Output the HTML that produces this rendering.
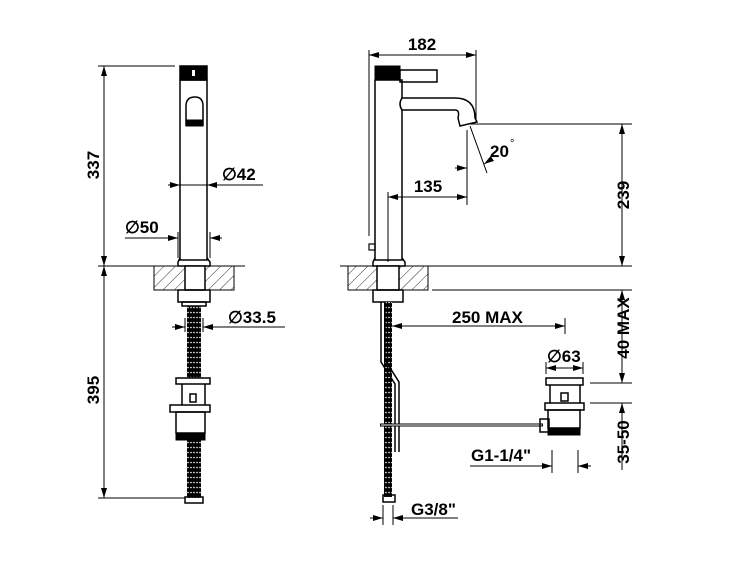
<!DOCTYPE html>
<html><head><meta charset="utf-8"><style>
html,body{margin:0;padding:0;background:#fff}
svg{display:block}
text{font-family:"Liberation Sans",Arial,sans-serif;font-weight:bold;font-size:17px;fill:#000}
</style></head><body>
<svg width="750" height="563" viewBox="0 0 750 563" xmlns="http://www.w3.org/2000/svg">
<defs>
<pattern id="h" width="8" height="8" patternUnits="userSpaceOnUse" patternTransform="rotate(45)">
<line x1="0" y1="0" x2="0" y2="8" stroke="#000" stroke-width="0.8"/></pattern>
<marker id="a" viewBox="0 0 10 6" refX="10" refY="3" markerWidth="10" markerHeight="6" orient="auto-start-reverse" markerUnits="userSpaceOnUse"><path d="M0,0L10,3L0,6z" fill="#000"/></marker>
<pattern id="rope" width="6" height="5" patternUnits="userSpaceOnUse"><rect width="6" height="5" fill="#000"/><circle cx="2" cy="2.5" r="0.8" fill="#fff"/><circle cx="5" cy="2.5" r="0.8" fill="#fff"/></pattern>
</defs>
<g stroke="#000" fill="none" stroke-width="1">
<line x1="98" y1="66" x2="175" y2="66"/>
<line x1="98" y1="266" x2="245" y2="266"/>
<line x1="98" y1="498" x2="185" y2="498"/>
<line x1="104" y1="66" x2="104" y2="266" marker-start="url(#a)" marker-end="url(#a)"/>
<line x1="104" y1="266" x2="104" y2="498" marker-start="url(#a)" marker-end="url(#a)"/>
<rect x="180" y="66" width="27" height="14" fill="#000" stroke-width="1.5"/>
<rect x="192" y="70" width="3" height="6" fill="#fff" stroke="none"/>
<rect x="180" y="80" width="27" height="180" stroke-width="1.5"/>
<path d="M186,125 V106 Q186,97 195,97 Q203,97 203,106 V125 Z" stroke-width="1.5"/>
<rect x="186" y="120" width="17" height="6" fill="#000"/>
<path d="M180,258 L178,262 L178,266 L210,266 L210,262 L207,258" stroke-width="1.5"/>
<rect x="154" y="266" width="80" height="24" fill="url(#h)"/>
<rect x="185" y="266" width="20" height="24" fill="#fff" stroke-width="1.5"/>
<rect x="178" y="290" width="32" height="12" stroke-width="1.5"/>
<rect x="182" y="302" width="24" height="4" stroke-width="1.5"/>
<rect x="187" y="306" width="14" height="72" fill="url(#rope)" stroke="none"/>
<path d="M176,378 H210 V384 H176 Z" stroke-width="1.5"/>
<path d="M182,384 V405 M205,384 V405" stroke-width="1.5"/>
<rect x="190" y="394" width="6" height="8" stroke-width="1.5"/>
<rect x="170" y="405" width="40" height="7" stroke-width="1.5"/>
<rect x="176" y="412" width="29" height="21" stroke-width="1.5"/>
<rect x="176" y="433" width="29" height="7" fill="#000"/>
<rect x="187" y="440" width="14" height="58" fill="url(#rope)" stroke="none"/>
<rect x="185" y="497" width="18" height="6" stroke-width="1.5"/>
<line x1="168" y1="185" x2="180" y2="185" marker-end="url(#a)"/>
<line x1="219" y1="185" x2="207" y2="185" marker-end="url(#a)"/>
<line x1="180" y1="185" x2="207" y2="185"/>
<line x1="207" y1="185" x2="263" y2="185"/>
<line x1="125" y1="238" x2="178" y2="238" marker-end="url(#a)"/>
<line x1="222" y1="238" x2="210" y2="238" marker-end="url(#a)"/>
<line x1="178" y1="232" x2="178" y2="258"/><line x1="210" y1="232" x2="210" y2="258"/>
<line x1="172" y1="327" x2="185" y2="327" marker-end="url(#a)"/>
<line x1="285" y1="327" x2="203" y2="327" marker-end="url(#a)"/>
<line x1="185" y1="318" x2="185" y2="332"/><line x1="203" y1="318" x2="203" y2="332"/>

<line x1="369" y1="50" x2="369" y2="236"/>
<line x1="476" y1="50" x2="476" y2="120"/>
<line x1="369" y1="55" x2="476" y2="55" marker-start="url(#a)" marker-end="url(#a)"/>
<rect x="375" y="66" width="25" height="14" fill="#000"/>
<rect x="400" y="70" width="37" height="12" stroke-width="1.5"/>
<rect x="375" y="80" width="27" height="180" stroke-width="1.5"/>
<path d="M402,98 H455 Q475,98 475,118 L477,122 L460,126 L458,118 Q460,110 455,110 H402 Q398,104 402,98 Z" stroke-width="1.5" fill="#fff"/>
<rect x="369" y="244" width="6" height="6" stroke-width="1.2"/>
<line x1="388" y1="192" x2="388" y2="262"/>
<path d="M375,258 L373,262 L373,266 L405,266 L405,262 L402,258" stroke-width="1.5"/>
<line x1="340" y1="266" x2="632" y2="266"/>
<line x1="432" y1="290" x2="632" y2="290"/>
<line x1="470" y1="124" x2="632" y2="124"/>
<rect x="348" y="266" width="80" height="24" fill="url(#h)"/>
<rect x="377" y="266" width="22" height="24" fill="#fff" stroke-width="1.5"/>
<rect x="373" y="290" width="30" height="12" stroke-width="1.5"/>
<rect x="384" y="302" width="8" height="195" fill="url(#rope)" stroke="none"/>
<path d="M381,302 V362 L395,384 V452 M385,302 V360 L399,382 V452" stroke-width="1.5"/>
<rect x="383" y="495" width="12" height="7" stroke-width="1.5"/>
<line x1="380" y1="425" x2="543" y2="425" stroke-width="3"/>
<line x1="381" y1="425" x2="542" y2="425" stroke="#fff" stroke-width="1"/>
<rect x="546" y="378" width="37" height="7" stroke-width="1.5"/>
<path d="M550,385 V403 M580,385 V403" stroke-width="1.5"/>
<rect x="561" y="393" width="7" height="8" stroke-width="1.5"/>
<rect x="545" y="403" width="39" height="7" stroke-width="1.5"/>
<rect x="548" y="410" width="32" height="18" stroke-width="1.5"/>
<rect x="548" y="428" width="32" height="7" fill="#000"/>
<rect x="540" y="419" width="9" height="13" stroke-width="1.5"/>
<line x1="622" y1="124" x2="622" y2="266" marker-start="url(#a)" marker-end="url(#a)"/>
<line x1="467" y1="130" x2="467" y2="205"/>
<line x1="470" y1="126" x2="487" y2="173"/>
<line x1="490" y1="160" x2="484" y2="164" marker-end="url(#a)"/>
<line x1="455" y1="168" x2="467" y2="168" marker-end="url(#a)"/>
<line x1="388" y1="197" x2="467" y2="197" marker-start="url(#a)" marker-end="url(#a)"/>
<line x1="392" y1="326" x2="565" y2="326" marker-start="url(#a)" marker-end="url(#a)"/>
<line x1="565" y1="318" x2="565" y2="334"/>
<line x1="546" y1="368" x2="583" y2="368" marker-start="url(#a)" marker-end="url(#a)"/>
<line x1="546" y1="362" x2="546" y2="374"/><line x1="583" y1="362" x2="583" y2="374"/>
<line x1="622" y1="290" x2="622" y2="370" marker-start="url(#a)"/>
<line x1="622" y1="370" x2="622" y2="383" marker-end="url(#a)"/>
<line x1="590" y1="383" x2="632" y2="383"/>
<line x1="590" y1="403" x2="632" y2="403"/>
<line x1="622" y1="403" x2="622" y2="470" marker-start="url(#a)"/>
<line x1="552" y1="450" x2="552" y2="473"/><line x1="578" y1="450" x2="578" y2="473"/>
<line x1="470" y1="466" x2="552" y2="466" marker-end="url(#a)"/>
<line x1="591" y1="466" x2="578" y2="466" marker-end="url(#a)"/>
<line x1="383" y1="505" x2="383" y2="525"/><line x1="393" y1="505" x2="393" y2="525"/>
<line x1="370" y1="518" x2="383" y2="518" marker-end="url(#a)"/>
<line x1="458" y1="518" x2="393" y2="518" marker-end="url(#a)"/>
</g>
<text x="222" y="180">∅42</text>
<text x="125" y="233">∅50</text>
<text x="228" y="323">∅33.5</text>
<text transform="translate(99,165) rotate(-90)" text-anchor="middle">337</text>
<text transform="translate(99,390) rotate(-90)" text-anchor="middle">395</text>
<text x="422" y="50" text-anchor="middle">182</text>
<text x="428" y="192" text-anchor="middle">135</text>
<text x="490" y="157">20</text><text x="510" y="147" style="font-size:11px;font-weight:normal">°</text>
<text transform="translate(629,195) rotate(-90)" text-anchor="middle">239</text>
<text x="452" y="323">250 MAX</text>
<text x="547" y="362">∅63</text>
<text transform="translate(629,328) rotate(-90)" text-anchor="middle">40 MAX</text>
<text transform="translate(629,442) rotate(-90)" text-anchor="middle">35-50</text>
<text x="471" y="461">G1-1/4"</text>
<text x="411" y="515">G3/8"</text>
</svg>
</body></html>
